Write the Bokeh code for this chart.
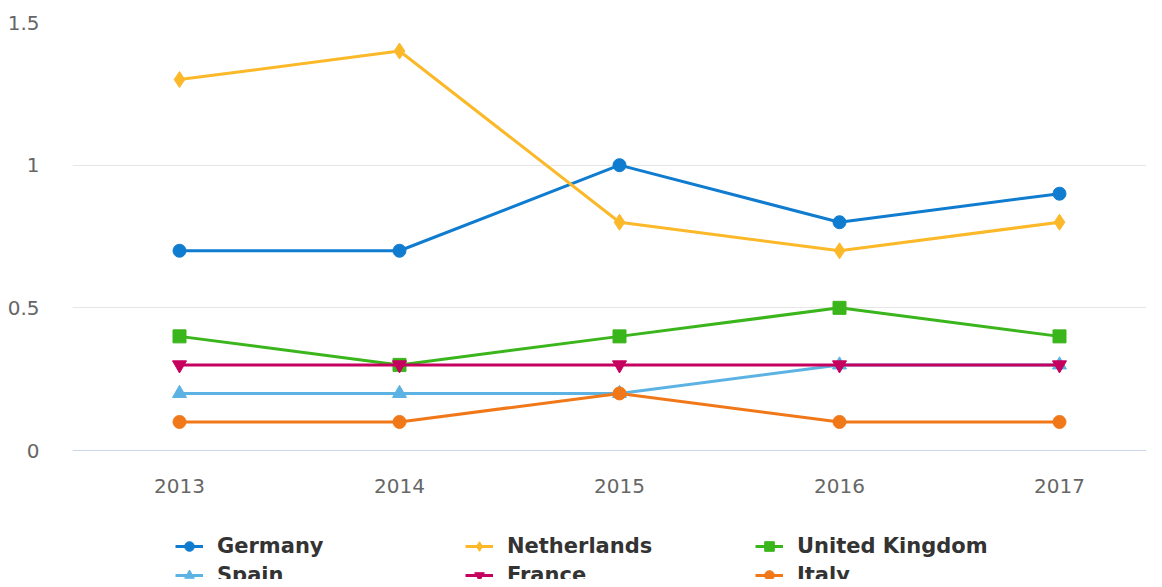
from bokeh.plotting import figure
from bokeh.models import FixedTicker, Legend, LegendItem, Range1d
from bokeh.embed import file_html
from bokeh.resources import INLINE

years = [2013, 2014, 2015, 2016, 2017]
year_labels = ["2013", "2014", "2015", "2016", "2017"]
germany = [0.7, 0.7, 1.0, 0.8, 0.9]
netherlands = [1.3, 1.4, 0.8, 0.7, 0.8]
united_kingdom = [0.4, 0.3, 0.4, 0.5, 0.4]
spain = [0.2, 0.2, 0.2, 0.3, 0.3]
france = [0.3, 0.3, 0.3, 0.3, 0.3]
italy = [0.1, 0.1, 0.2, 0.1, 0.1]
y_ticks = [0, 0.5, 1, 1.5]
y_tick_labels = {0: "0", 0.5: "0.5", 1: "1", 1.5: "1.5"}

series = [
    ("Germany", germany, "#0f7ccf", "circle", 13),
    ("Netherlands", netherlands, "#fbb829", "diamond", 16),
    ("United Kingdom", united_kingdom, "#3ab51b", "square", 13),
    ("Spain", spain, "#5cb3e3", "triangle", 14),
    ("France", france, "#c6005e", "inverted_triangle", 14),
    ("Italy", italy, "#f07819", "circle", 13),
]

W, H = 1146, 579
TOP = 22
LEFT = 72
PX_PER_YEAR = 220
PX_PER_UNIT = 428 / 1.5
y_start = -(H - 450) / PX_PER_UNIT
frame_w = W - LEFT
x_start = 2013 - 107 / PX_PER_YEAR
x_end = x_start + frame_w / PX_PER_YEAR

p = figure(width=W, height=H, output_backend="svg", toolbar_location=None,
           x_range=Range1d(x_start, x_end),
           y_range=Range1d(y_start, 1.5),
           min_border_left=LEFT, min_border_right=0, min_border_top=TOP,
           min_border_bottom=0)
p.outline_line_color = None
p.background_fill_color = "white"
p.border_fill_color = "white"

p.xgrid.visible = False
p.ygrid.grid_line_color = "#e6e6e6"
p.ygrid.grid_line_width = 1
p.ygrid.ticker = FixedTicker(ticks=y_ticks)

p.xaxis.fixed_location = 0
p.xaxis.ticker = FixedTicker(ticks=years)
p.xaxis.major_label_overrides = {y: l for y, l in zip(years, year_labels)}
p.xaxis.axis_line_color = "#ccd6eb"
p.xaxis.axis_line_width = 1
p.xaxis.major_tick_line_color = None
p.xaxis.minor_tick_line_color = None
p.xaxis.major_label_standoff = 22
p.xaxis.major_label_text_font = "DejaVu Sans"
p.xaxis.major_label_text_font_size = "20px"
p.xaxis.major_label_text_color = "#666666"

p.yaxis.ticker = FixedTicker(ticks=y_ticks)
p.yaxis.major_label_overrides = y_tick_labels
p.yaxis.axis_line_color = None
p.yaxis.major_tick_line_color = None
p.yaxis.minor_tick_line_color = None
p.yaxis.major_label_standoff = 27
p.yaxis.major_label_text_font = "DejaVu Sans"
p.yaxis.major_label_text_font_size = "20px"
p.yaxis.major_label_text_color = "#666666"

items = []
for name, vals, color, marker, size in series:
    r1 = p.line(years, vals, line_color=color, line_width=3)
    r2 = p.scatter(years, vals, marker=marker, size=size, fill_color=color,
                   line_color=color, line_width=1)
    items.append(LegendItem(label=name, renderers=[r1, r2]))

legend = Legend(items=items, orientation="horizontal", ncols=3,
                location=(103, -8), padding=0, margin=0,
                border_line_color=None, background_fill_alpha=0,
                glyph_width=28, glyph_height=24, label_height=24,
                label_width=243, label_standoff=14, spacing=5,
                label_text_font="DejaVu Sans", label_text_font_style="bold",
                label_text_font_size="21px", label_text_color="#333333")
p.add_layout(legend, "center")

open("out.html", "w").write(file_html(p, INLINE))
